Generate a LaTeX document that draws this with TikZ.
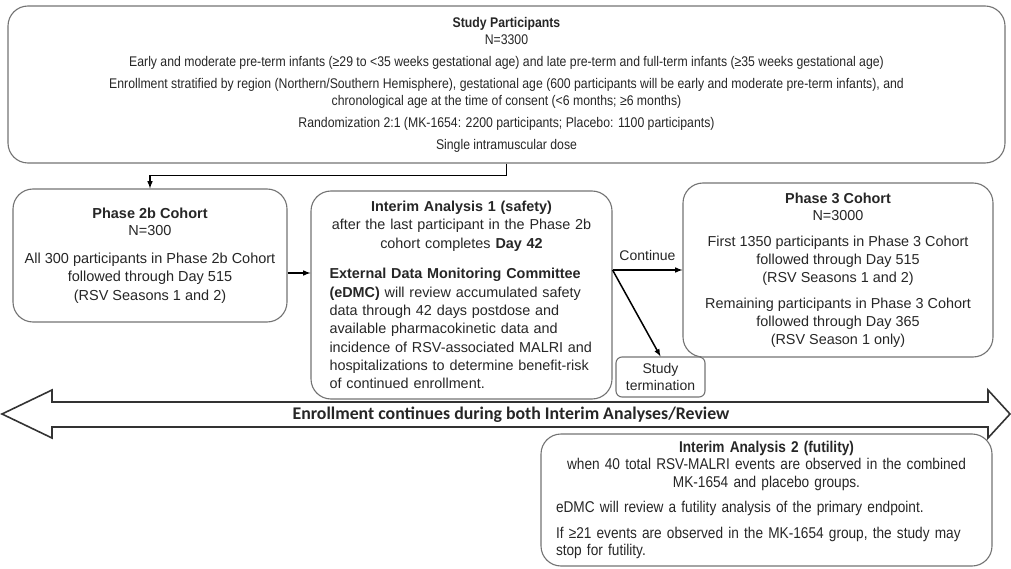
\documentclass[tikz,border=0pt]{standalone}
\usepackage{fontspec}
\setmainfont{Liberation Sans}
\newfontfamily\schmal[FakeStretch=0.875]{Liberation Sans}
\newfontfamily\calibri{Carlito}
\usetikzlibrary{arrows,positioning}

\begin{document}
\begin{tikzpicture}[x=1pt,y=-1pt,
    kasten/.style={
      draw=black!55,
      rounded corners=20pt,
      line width=1.1pt,
      inner sep=0pt,
      text=black!85},
    pfeil/.style={-latex, line width=1.5pt}
    ]
  \useasboundingbox (0,0) rectangle (1011,569);

  \node at (506.5,84.5) (teilnehmer) [kasten, minimum width=997pt, minimum height=157pt, align=center,
    font=\schmal\fontsize{14}{17}\selectfont]
    {\textbf{Study Participants}\\
     N=3300\\[5pt]
     Early and moderate pre-term infants (≥29 to <35 weeks gestational age) and late pre-term and full-term infants (≥35 weeks gestational age)\\[5pt]
     Enrollment stratified by region (Northern/Southern Hemisphere), gestational age (600 participants will be early and moderate pre-term infants), and\\
     chronological age at the time of consent (<6 months; ≥6 months)\\[5pt]
     Randomization 2:1 (MK-1654: 2200 participants; Placebo: 1100 participants)\\[5pt]
     Single intramuscular dose};

  \node at (150,255.5) (phase2b) [kasten, minimum width=274pt, minimum height=133pt, align=center,
    font=\fontsize{14.5}{18.5}\selectfont]
    {\textbf{Phase 2b Cohort}\\[-1.5pt]
     N=300\\[9pt]
     All 300 participants in Phase 2b Cohort\\
     followed through Day 515\\
     (RSV Seasons 1 and 2)};

  \node at (461.5,295) (ia1) [kasten, minimum width=301pt, minimum height=208pt, text width=264pt,
    font=\fontsize{14.4}{18.3}\selectfont]
    {{\centering\textbf{Interim Analysis 1 (safety)}\\
      after the last participant in the Phase 2b\\
      cohort completes \textbf{Day 42}\par}
     \vspace{12.5pt}
     \raggedright
     \textbf{External Data Monitoring Committee}\\
     \textbf{(eDMC)} will review accumulated safety\\
     data through 42 days postdose and\\
     available pharmacokinetic data and\\
     incidence of RSV-associated MALRI and\\
     hospitalizations to determine benefit-risk\\
     of continued enrollment.};

  \node at (838,270) (phase3) [kasten, minimum width=310pt, minimum height=174pt, align=center,
    font=\fontsize{14.4}{18}\selectfont]
    {\textbf{Phase 3 Cohort}\\[-1pt]
     N=3000\\[8pt]
     First 1350 participants in Phase 3 Cohort\\
     followed through Day 515\\
     (RSV Seasons 1 and 2)\\[8pt]
     Remaining participants in Phase 3 Cohort\\
     followed through Day 365\\
     (RSV Season 1 only)};

  \node at (660.5,377) (abbruch) [kasten, rounded corners=6pt, minimum width=89pt, minimum height=40pt, align=center,
    font=\fontsize{14}{17}\selectfont]
    {Study\\ termination};

  \node at (766.5,500) (ia2) [kasten, minimum width=451pt, minimum height=132pt, text width=421pt,
    font=\schmal\fontsize{15.6}{17.5}\selectfont]
    {{\centering\textbf{Interim Analysis 2 (futility)}\\
      when 40 total RSV-MALRI events are observed in the combined\\
      MK-1654 and placebo groups.\par}
     \vspace{8pt}
     \raggedright
     eDMC will review a futility analysis of the primary endpoint.\par
     \vspace{8pt}
     If ≥21 events are observed in the MK-1654 group, the study may\\
     stop for futility.};

  % enrollment arrow
  \draw [line width=1.6pt, draw=black!80, line join=miter]
    (2,414) -- (52,390) -- (52,402) -- (988,402) -- (988,390) -- (1010,414)
    -- (988,438) -- (988,427) -- (52,427) -- (52,438) -- cycle;
  \node at (511,415) (hinweis) [font=\calibri\bfseries\fontsize{17.8}{19}\selectfont, text=black!85]
    {Enrollment continues during both Interim Analyses/Review};

  \coordinate (gabel) at (ia1.east |- phase3.west);

  \draw [pfeil] (teilnehmer.south) -- ++(0,12) -| (phase2b.north);
  \draw [pfeil] ([yshift=-17.5pt]phase2b.east) -- ([yshift=-17.5pt]phase2b.east -| ia1.west);
  \path [pfeil] (gabel) edge node[above=5pt, font=\fontsize{14}{15}\selectfont, text=black!85] {Continue} (phase3.west);
  \path [pfeil] (gabel) edge [] (abbruch.north);

\end{tikzpicture}
\end{document}
